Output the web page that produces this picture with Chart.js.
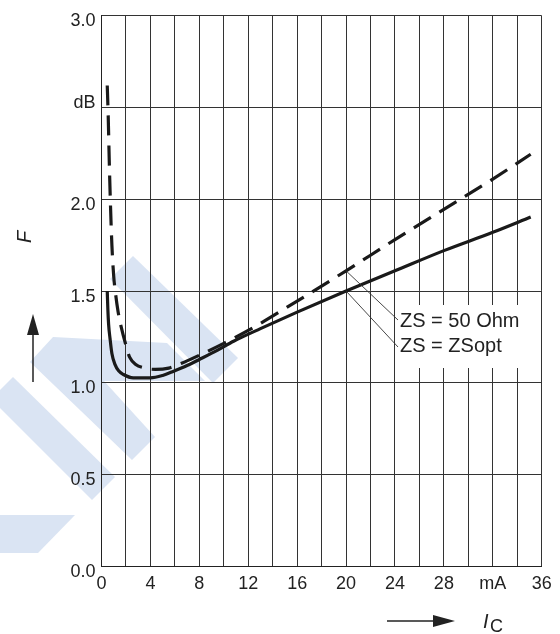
<!DOCTYPE html>
<html>
<head>
<meta charset="utf-8">
<script src="https://cdn.jsdelivr.net/npm/chart.js@4.4.1/dist/chart.umd.min.js"></script>
<style>
  html, body { margin: 0; padding: 0; background: #fff; }
  #wrap { width: 560px; height: 634px; position: relative; }
  canvas { display: block; }
</style>
</head>
<body>
<div id="wrap"><canvas id="c" width="560" height="634"></canvas></div>
<script>
// ---- data ----
const seriesLabels = ['ZS = 50 Ohm', 'ZS = ZSopt'];
const icDashed = [0.47, 0.55, 0.63, 0.72, 0.85, 1.0, 1.16, 1.35, 1.6, 2.06, 2.3, 2.8, 3.5, 4.4, 5.5, 6.5, 8, 10, 12, 16, 20, 24, 28, 32, 35.1];
const fDashed  = [2.62, 2.45, 2.22, 2.0, 1.75, 1.58, 1.48, 1.39, 1.307, 1.19, 1.14, 1.1, 1.081, 1.073, 1.08, 1.105, 1.15, 1.215, 1.285, 1.445, 1.61, 1.78, 1.945, 2.11, 2.245];
const icSolid  = [0.47, 0.52, 0.58, 0.7, 0.85, 1.1, 1.4, 1.79, 2.6, 4.0, 5.0, 5.9, 7.0, 8.0, 9.5, 10.8, 13, 16, 20, 24, 28, 32, 35.1];
const fSolid   = [1.50, 1.40, 1.32, 1.24, 1.16, 1.10, 1.065, 1.045, 1.027, 1.027, 1.04, 1.063, 1.094, 1.127, 1.178, 1.226, 1.295, 1.385, 1.50, 1.61, 1.72, 1.82, 1.903];
const xTickLabels = {0:'0', 4:'4', 8:'8', 12:'12', 16:'16', 20:'20', 24:'24', 28:'28', 32:'mA', 36:'36'};
const yTickLabels = {0:'0.0', 0.5:'0.5', 1:'1.0', 1.5:'1.5', 2:'2.0', 2.5:'dB', 3:'3.0'};
const leaderAt = 20; // mA, where the annotation lines start

const toPts = (xs, ys) => xs.map((x, i) => ({x: x, y: ys[i]}));
const valueAt = (xs, ys, x) => ys[xs.indexOf(x)];

const FONT = '"Liberation Sans", Arial, sans-serif';
const INK = '#222';

const decor = {
  id: 'decor',
  beforeDraw(chart) {
    const ctx = chart.ctx;
    ctx.save();
    ctx.fillStyle = '#fff';
    ctx.fillRect(0, 0, chart.width, chart.height);
    // light watermark shapes
    ctx.fillStyle = '#dae4f3';
    const polys = [
      [[133,256],[238,358],[213,383],[110,279]],
      [[30,362],[53,337],[167,343],[205,381],[104,381],[155,437],[132,460]],
      [[0,390],[13,377],[115,477],[92,500],[0,408]],
      [[0,515],[75,515],[38,553],[0,553]]
    ];
    for (const p of polys) {
      ctx.beginPath();
      p.forEach((pt, i) => i ? ctx.lineTo(pt[0], pt[1]) : ctx.moveTo(pt[0], pt[1]));
      ctx.closePath();
      ctx.fill();
    }
    ctx.restore();
  },
  beforeDatasetsDraw(chart) {
    const ctx = chart.ctx;
    ctx.save();
    ctx.fillStyle = '#fff';
    ctx.fillRect(397, 305, 134, 63);
    ctx.restore();
  },
  afterDatasetsDraw(chart) {
    const ctx = chart.ctx;
    const xs = chart.scales.x, ys = chart.scales.y;
    ctx.save();
    // leader lines
    ctx.strokeStyle = '#333';
    ctx.lineWidth = 0.9;
    const px = xs.getPixelForValue(leaderAt);
    const y1 = ys.getPixelForValue(valueAt(icDashed, fDashed, leaderAt));
    const y2 = ys.getPixelForValue(valueAt(icSolid, fSolid, leaderAt));
    ctx.beginPath();
    ctx.moveTo(px, y1); ctx.lineTo(398, 320);
    ctx.moveTo(px, y2); ctx.lineTo(398, 347);
    ctx.stroke();
    // labels
    ctx.fillStyle = INK;
    ctx.font = '20px ' + FONT;
    ctx.textAlign = 'left';
    ctx.textBaseline = 'alphabetic';
    ctx.fillText(seriesLabels[0], 400, 327);
    ctx.fillText(seriesLabels[1], 400, 352);
    // y axis title F
    ctx.save();
    ctx.translate(25, 237);
    ctx.rotate(-Math.PI / 2);
    ctx.font = 'italic 20px ' + FONT;
    ctx.textAlign = 'center';
    ctx.textBaseline = 'middle';
    ctx.fillText('F', 0, 0);
    ctx.restore();
    // up arrow
    ctx.strokeStyle = INK;
    ctx.lineWidth = 1.5;
    ctx.beginPath();
    ctx.moveTo(33, 382); ctx.lineTo(33, 330);
    ctx.stroke();
    ctx.beginPath();
    ctx.moveTo(33, 314); ctx.lineTo(27, 335); ctx.lineTo(39, 335); ctx.closePath();
    ctx.fill();
    // right arrow
    ctx.beginPath();
    ctx.moveTo(387, 621); ctx.lineTo(440, 621);
    ctx.stroke();
    ctx.beginPath();
    ctx.moveTo(455, 621); ctx.lineTo(433, 615); ctx.lineTo(433, 627); ctx.closePath();
    ctx.fill();
    // x axis title I_C
    ctx.font = 'italic 20px ' + FONT;
    ctx.textAlign = 'left';
    ctx.textBaseline = 'alphabetic';
    ctx.fillText('I', 483, 628);
    ctx.font = '18px ' + FONT;
    ctx.fillText('C', 490, 632);
    ctx.restore();
  }
};

new Chart(document.getElementById('c'), {
  type: 'line',
  data: {
    datasets: [
      {
        label: seriesLabels[0],
        data: toPts(icDashed, fDashed),
        borderColor: '#1a1a1a',
        borderWidth: 3.2,
        borderDash: [20, 10],
        pointRadius: 0,
        fill: false,
        cubicInterpolationMode: 'monotone'
      },
      {
        label: seriesLabels[1],
        data: toPts(icSolid, fSolid),
        borderColor: '#1a1a1a',
        borderWidth: 3.2,
        pointRadius: 0,
        fill: false,
        cubicInterpolationMode: 'monotone'
      }
    ]
  },
  options: {
    responsive: false,
    animation: false,
    devicePixelRatio: 1,
    layout: { padding: { left: 0, right: 18.3, top: 12.3, bottom: 0 } },
    plugins: { legend: { display: false }, tooltip: { enabled: false } },
    scales: {
      x: {
        type: 'linear',
        min: 0, max: 36,
        afterFit(s) { s.height = 67.7; },
        grid: { color: '#333', lineWidth: 1, drawTicks: false },
        border: { color: '#222', width: 1 },
        ticks: {
          stepSize: 2,
          autoSkip: false,
          maxRotation: 0,
          padding: 7,
          color: INK,
          font: { family: FONT, size: 18 },
          callback: (v) => (xTickLabels[v] !== undefined ? xTickLabels[v] : '')
        }
      },
      y: {
        type: 'linear',
        min: 0, max: 3,
        afterFit(s) { s.width = 101.5; },
        grid: { color: '#333', lineWidth: 1, drawTicks: false },
        border: { color: '#222', width: 1 },
        ticks: {
          stepSize: 0.5,
          padding: 6,
          labelOffset: 5.7,
          color: INK,
          font: { family: FONT, size: 18, lineHeight: 1.08 },
          callback: (v) => {
            const t = yTickLabels[v];
            if (t === undefined) return '';
            return t === 'dB' ? [t, ''] : t;
          }
        }
      }
    }
  },
  plugins: [decor]
});
</script>
</body>
</html>
